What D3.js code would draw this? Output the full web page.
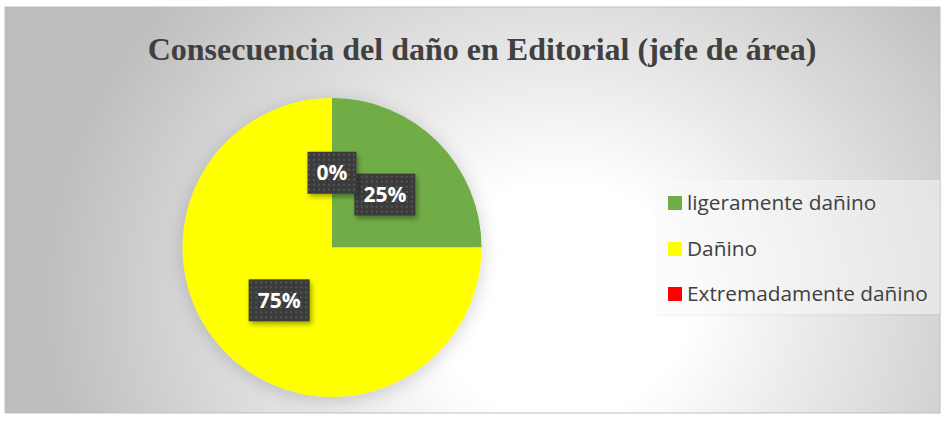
<!DOCTYPE html>
<html>
<head>
<meta charset="utf-8">
<script src="https://cdn.jsdelivr.net/npm/d3@7"></script>
<style>
  html, body { margin: 0; padding: 0; background: #ffffff; }
  svg { display: block; }
</style>
</head>
<body>
<svg id="chart" width="943" height="421"></svg>
<script>
// Damage-consequence shares for the Editorial area head
const categories = ["ligeramente dañino", "Dañino", "Extremadamente dañino"];
const values = [25, 75, 0];
const colors = ["#70ad47", "#ffff00", "#ff0000"];
const titleText = "Consecuencia del daño en Editorial (jefe de área)";

const svg = d3.select("#chart");
const frame = { x: 5, y: 7, w: 935, h: 406 };

const defs = svg.append("defs");

// Chart background: white centre fading to grey edges
const bg = defs.append("radialGradient")
  .attr("id", "bgGrad")
  .attr("gradientUnits", "userSpaceOnUse")
  .attr("cx", 560).attr("cy", 300).attr("r", 520)
  .attr("gradientTransform", "translate(560,300) scale(1,0.9) translate(-560,-300)");
bg.append("stop").attr("offset", "0").attr("stop-color", "#ffffff");
bg.append("stop").attr("offset", "0.25").attr("stop-color", "#ffffff");
bg.append("stop").attr("offset", "1").attr("stop-color", "#bdbdbd");

// Soft shadow behind the pie
const pieShadow = defs.append("filter").attr("id", "pieShadow")
  .attr("x", "-20%").attr("y", "-20%").attr("width", "140%").attr("height", "140%");
pieShadow.append("feDropShadow")
  .attr("dx", 0).attr("dy", 3).attr("stdDeviation", 9)
  .attr("flood-color", "#000").attr("flood-opacity", 0.18);

// Shadow for the value callouts
const boxShadow = defs.append("filter").attr("id", "boxShadow")
  .attr("x", "-30%").attr("y", "-30%").attr("width", "160%").attr("height", "160%");
boxShadow.append("feDropShadow")
  .attr("dx", 2).attr("dy", 3).attr("stdDeviation", 2.5)
  .attr("flood-color", "#000").attr("flood-opacity", 0.35);

// Dotted dark texture for the callout boxes
const pat = defs.append("pattern").attr("id", "dots")
  .attr("patternUnits", "userSpaceOnUse").attr("width", 5).attr("height", 5);
pat.append("rect").attr("width", 5).attr("height", 5).attr("fill", "#3b3b3b");
pat.append("rect").attr("x", 1).attr("y", 1).attr("width", 2).attr("height", 2).attr("fill", "#555555");

// Legend shadow
const legShadow = defs.append("filter").attr("id", "legShadow")
  .attr("x", "-10%").attr("y", "-10%").attr("width", "120%").attr("height", "130%");
legShadow.append("feDropShadow")
  .attr("dx", 1).attr("dy", 1).attr("stdDeviation", 1.5)
  .attr("flood-color", "#000").attr("flood-opacity", 0.12);

// Frame
svg.append("rect")
  .attr("x", frame.x).attr("y", frame.y)
  .attr("width", frame.w).attr("height", frame.h)
  .attr("fill", "url(#bgGrad)")
  .attr("stroke", "#bfbfbf").attr("stroke-width", 1);

// Title
svg.append("text")
  .attr("x", 482).attr("y", 60)
  .attr("text-anchor", "middle")
  .attr("font-family", "'Liberation Serif', 'Times New Roman', serif")
  .attr("font-weight", "bold")
  .attr("font-size", 32)
  .attr("fill", "#404040")
  .text(titleText);

// Pie
const cx = 332, cy = 247.5, r = 149.5;
const pie = d3.pie().sort(null).value(d => d)(values);
const arc = d3.arc().innerRadius(0).outerRadius(r);
const labelArc = d3.arc().innerRadius(r * 0.5).outerRadius(r * 0.5);

const g = svg.append("g").attr("transform", `translate(${cx},${cy})`);
g.append("g").attr("filter", "url(#pieShadow)")
  .selectAll("path")
  .data(pie)
  .join("path")
  .attr("d", arc)
  .attr("fill", (d, i) => colors[i]);

// Value callouts
const fmt = d3.format(".0%");
const total = d3.sum(values);
const labels = g.selectAll("g.lbl")
  .data(pie)
  .join("g")
  .attr("class", "lbl")
  .attr("transform", d => `translate(${labelArc.centroid(d)})`);

labels.each(function(d) {
  const sel = d3.select(this);
  const txt = fmt(d.data / total);
  const t = sel.append("text")
    .attr("text-anchor", "middle")
    .attr("dy", "0.36em")
    .attr("font-family", "'Open Sans', Lato, sans-serif")
    .attr("font-weight", "bold")
    .attr("font-size", 21)
    .attr("fill", "#ffffff")
    .text(txt);
  const bb = t.node().getBBox();
  const padX = 9, h = 42;
  sel.insert("rect", "text")
    .attr("x", -bb.width / 2 - padX)
    .attr("y", -h / 2)
    .attr("width", bb.width + padX * 2)
    .attr("height", h)
    .attr("fill", "url(#dots)")
    .attr("filter", "url(#boxShadow)");
});

// Legend
const leg = svg.append("g").attr("transform", "translate(655,180)");
leg.append("rect")
  .attr("width", 285).attr("height", 134)
  .attr("fill", "#ffffff").attr("fill-opacity", 0.45)
  .attr("filter", "url(#legShadow)");
const rowY = [23, 69, 114];
const items = leg.selectAll("g.item")
  .data(categories)
  .join("g")
  .attr("class", "item")
  .attr("transform", (d, i) => `translate(13,${rowY[i]})`);
items.append("rect")
  .attr("x", 0).attr("y", -7)
  .attr("width", 14).attr("height", 14)
  .attr("fill", (d, i) => colors[i]);
items.append("text")
  .attr("x", 19).attr("y", 0)
  .attr("dy", "0.35em")
  .attr("font-family", "'Open Sans', Lato, sans-serif")
  .attr("font-size", 20.8)
  .attr("fill", "#404040")
  .text(d => d);
</script>
</body>
</html>
